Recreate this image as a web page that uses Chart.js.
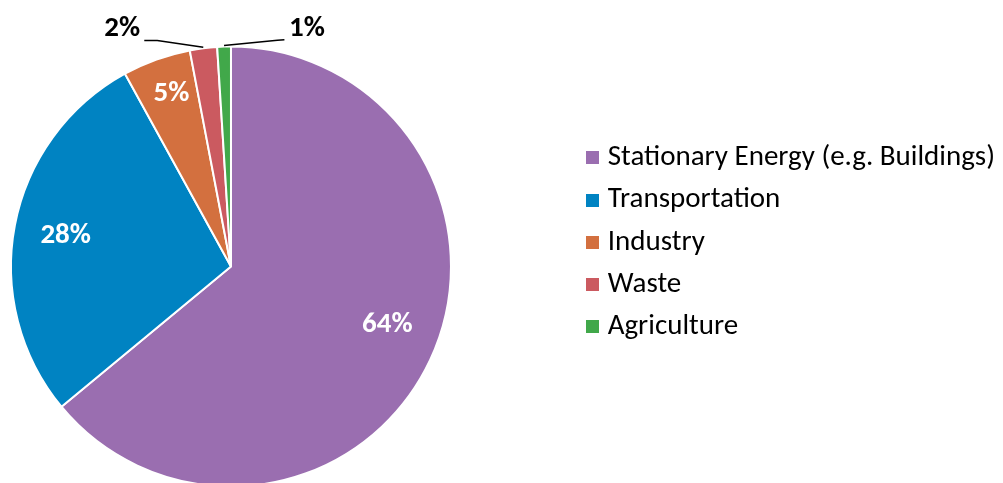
<!DOCTYPE html>
<html>
<head>
<meta charset="utf-8">
<title>Emissions by sector</title>
<script src="https://cdn.jsdelivr.net/npm/chart.js@4.4.1/dist/chart.umd.min.js"></script>
<style>
    html, body { margin: 0; padding: 0; background: #fff; overflow: hidden; width: 1003px; height: 483px; }
    /* the pie sits further left than the legend layout allows, so the canvas starts off-page */
    canvas { display: block; margin-left: -116px; }
</style>
</head>
<body>
<canvas id="sectorPie" width="1121" height="483"></canvas>
<script>
        // Sector shares (percent of total emissions)
        const sectors = ['Stationary Energy (e.g. Buildings)', 'Transportation', 'Industry', 'Waste', 'Agriculture'];
        const shares = [64, 28, 5, 2, 1];

        const sectorColors = ['#9A6EB0', '#0083C2', '#D3703F', '#CB5A60', '#41A84A'];

        Chart.defaults.font.family = 'Carlito, "Liberation Sans", sans-serif';

        // Small solid squares used as legend markers
        const swatches = sectorColors.map(color => {
            const c = document.createElement('canvas');
            c.width = 13;
            c.height = 13;
            const g = c.getContext('2d');
            g.fillStyle = color;
            g.fillRect(0, 0, 13, 13);
            return c;
        });

        // Percentage labels: white inside the big slices, black with a leader line for the thin ones
        const sliceLabels = {
            id: 'sliceLabels',
            afterDatasetsDraw(chart, args, opts) {
                const ctx = chart.ctx;
                const arcs = chart.getDatasetMeta(0).data;
                ctx.save();
                ctx.font = 'bold 29px Carlito';
                ctx.textAlign = 'center';
                ctx.textBaseline = 'middle';
                arcs.forEach((arc, i) => {
                    const {x, y, startAngle, endAngle, outerRadius} =
                        arc.getProps(['x', 'y', 'startAngle', 'endAngle', 'outerRadius'], true);
                    const mid = (startAngle + endAngle) / 2;
                    const text = shares[i] + '%';
                    const callout = opts.callouts[i];
                    if (callout) {
                        const ex = x + Math.cos(mid) * (outerRadius + 1);
                        const ey = y + Math.sin(mid) * (outerRadius + 1);
                        ctx.strokeStyle = '#000';
                        ctx.lineWidth = 1.5;
                        ctx.beginPath();
                        ctx.moveTo(ex, ey);
                        ctx.lineTo(ex + callout.elbow[0], ey + callout.elbow[1]);
                        ctx.lineTo(ex + callout.end[0], ey + callout.end[1]);
                        ctx.stroke();
                        ctx.fillStyle = '#000';
                        ctx.fillText(text, ex + callout.label[0], ey + callout.label[1]);
                    } else {
                        const r = outerRadius * opts.insideRadius[i];
                        const nudge = opts.nudge[i] || [0, 0];
                        ctx.fillStyle = '#fff';
                        ctx.fillText(text, x + Math.cos(mid) * r + nudge[0], y + Math.sin(mid) * r + nudge[1]);
                    }
                });
                ctx.restore();
            }
        };

        const pieChart = new Chart(document.getElementById('sectorPie'), {
            type: 'pie',
            data: {
                labels: sectors,
                datasets: [{
                    data: shares,
                    backgroundColor: sectorColors,
                    borderColor: '#fff',
                    borderWidth: 2,
                    radius: 220,
                    clip: false
                }]
            },
            plugins: [sliceLabels],
            options: {
                responsive: false,
                animation: false,
                events: [],
                layout: {
                    padding: { left: 0, right: 0, top: 50, bottom: 0 }
                },
                plugins: {
                    tooltip: { enabled: false },
                    legend: {
                        position: 'right',
                        align: 'start',
                        title: {
                            display: true,
                            text: '',
                            font: { size: 10, lineHeight: 1 },
                            padding: { top: 70, bottom: 0 }
                        },
                        labels: {
                            color: '#000',
                            font: { size: 29 },
                            padding: 13.25,
                            usePointStyle: true,
                            pointStyleWidth: 2,
                            generateLabels(chart) {
                                const items = Chart.overrides.pie.plugins.legend.labels.generateLabels(chart);
                                items.forEach((item, i) => {
                                    item.pointStyle = swatches[i];
                                    item.lineWidth = 0;
                                });
                                return items;
                            }
                        }
                    },
                    sliceLabels: {
                        insideRadius: [0.755, 0.765, 0.84],
                        nudge: [[6, -12], [0, 1], [3, 1]],
                        callouts: {
                            3: { label: [-81, -18.5], elbow: [-46, -6.7], end: [-59, -6.7] },
                            4: { label: [83, -16.8], elbow: [53.4, -5.4], end: [60.4, -5.9] }
                        }
                    }
                }
            }
        });
</script>
</body>
</html>
